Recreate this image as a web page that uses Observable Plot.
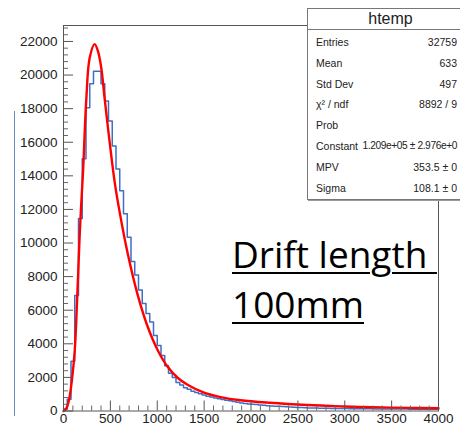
<!DOCTYPE html>
<html>
<head>
<meta charset="utf-8">
<script src="https://cdn.jsdelivr.net/npm/d3@7"></script>
<script src="https://cdn.jsdelivr.net/npm/@observablehq/plot@0.6"></script>
<style>
  html, body { margin: 0; padding: 0; background: white; overflow: hidden; }
  #wrap { position: relative; width: 460px; height: 428px; overflow: hidden; }
  #wrap svg { position: absolute; left: 0; top: 0; }
  .stats { position: absolute; left: 307px; top: 8px; width: 167px; height: 192px;
           border: 1px solid #777; box-shadow: 1px 1px 0 #999; background: white;
           font-family: "Liberation Sans", Arial, sans-serif; color: #222; box-sizing: border-box; }
  .stats .title { position: absolute; left: 0; right: 0; top: 0; height: 20px; line-height: 20px;
           text-align: center; font-size: 16px; border-bottom: 1px solid #777; }
  .stats .row { position: absolute; left: 8px; right: 16px; height: 20px; line-height: 20px; font-size: 10.5px; }
  .stats .row .v { position: absolute; right: 0; top: 0; white-space: nowrap; }
  .stats .row .v.tight { letter-spacing: -0.4px; font-size: 10.2px; }
  .note { position: absolute; left: 232px; top: 229px; font-family: "Open Sans", sans-serif;
          font-size: 37px; line-height: 50px; color: #000; white-space: pre; text-decoration: underline;
          text-decoration-thickness: 2px; text-underline-offset: 4px; }
  .edge { position: absolute; left: 14px; top: 111px; height: 305px; border-left: 1px solid #6a86c0; }
</style>
</head>
<body>
<div id="wrap"></div>
<script>
// ---- data ----
const binWidth = 40;
const counts = [
  120, 700, 2960, 6880, 11460, 15020, 18050, 19480, 20230, 20230,
  19480, 18450, 17260, 15780, 14410, 13110, 11740, 10340, 8900, 8100,
  7200, 6400, 5800, 5300, 4500, 3900, 3300, 2700, 2250, 2000,
  1700, 1550, 1380, 1300, 1180, 1100, 1020, 950, 880, 830,
  780, 730, 680, 640, 610, 570, 520, 480, 450, 420,
  400, 380, 360, 340, 320, 300, 290, 280, 265, 250,
  240, 230, 215, 205, 195, 185, 180, 175, 170, 165,
  160, 155, 150, 148, 145, 142, 140, 138, 135, 133,
  131, 130, 128, 126, 124, 122, 120, 118, 116, 115,
  113, 112, 110, 108, 107, 105, 104, 102, 101, 100
];
const fitX = [0, 30, 60, 92, 120, 145, 173, 191, 209, 244, 279, 332, 368, 403, 438, 491, 544, 597, 686, 792, 899, 1005, 1111, 1217, 1323, 1499, 1676, 1889, 2200, 2600, 3000, 3300, 3700, 4000];
const fitY = [0, 150, 700, 1950, 3600, 6580, 10540, 12500, 14300, 18640, 21010, 21840, 21410, 20420, 18640, 16070, 13700, 11900, 9350, 6900, 5000, 3620, 2630, 1980, 1560, 1090, 830, 640, 490, 356, 270, 220, 185, 160];
const xMajor = [0, 500, 1000, 1500, 2000, 2500, 3000, 3500, 4000];
const yMajor = [0, 2000, 4000, 6000, 8000, 10000, 12000, 14000, 16000, 18000, 20000, 22000];
const xMinorStep = 100;
const yMinorStep = 400;
const statsTitle = "htemp";
const statsLabels = ["Entries", "Mean", "Std Dev", "χ² / ndf", "Prob", "Constant", "MPV", "Sigma"];
const statsValues = ["32759", "633", "497", "8892 / 9", "", "1.209e+05 ± 2.976e+0", "353.5 ± 0", "108.1 ± 0"];
const noteLines = ["Drift length ", "100mm"];

// ---- derived tables ----
const hist = counts.map((c, i) => ({x: i * binWidth, y: c}));
hist.push({x: counts.length * binWidth, y: counts[counts.length - 1]});
const fit = fitX.map((x, i) => ({x, y: fitY[i]}));
const xMinor = d3.range(0, 4000 + 1, xMinorStep).filter(v => !xMajor.includes(v));
const yMinor = d3.range(0, 22950, yMinorStep).filter(v => !yMajor.includes(v));

const W = 460, H = 428, mL = 63, mR = 22, mT = 25, mB = 17.5;
const fw = W - mL - mR, fh = H - mT - mB;

const chart = Plot.plot({
  width: W, height: H,
  marginLeft: mL, marginRight: mR, marginTop: mT, marginBottom: mB,
  x: {domain: [0, 4000], label: null},
  y: {domain: [0, 22950], label: null},
  style: {fontFamily: "Liberation Sans, Arial, sans-serif", fontSize: "13.5px", color: "#222", background: "white", overflow: "visible"},
  marks: [
    Plot.line(hist, {x: "x", y: "y", curve: "step-after", stroke: "#3f6ec6", strokeWidth: 1.5}),
    Plot.line(fit, {x: "x", y: "y", curve: "catmull-rom", stroke: "#ff0000", strokeWidth: 2.4}),
    Plot.tickY(yMinor, {y: d => d, insetRight: fw - 5, stroke: "#666"}),
    Plot.tickY(yMajor, {y: d => d, insetRight: fw - 10, stroke: "#555"}),
    Plot.tickX(xMinor, {x: d => d, insetTop: fh - 5, stroke: "#666"}),
    Plot.tickX(xMajor, {x: d => d, insetTop: fh - 10, stroke: "#555"}),
    Plot.frame({stroke: "#555"}),
    Plot.axisX({ticks: xMajor, tickSize: 0, tickPadding: 2, tickFormat: d => String(d), fill: "#222"}),
    Plot.axisY({ticks: yMajor, tickSize: 0, tickPadding: 6, tickFormat: d => String(d), fill: "#222"})
  ]
});

const wrap = document.getElementById("wrap");
wrap.appendChild(chart);

// stats box
const box = document.createElement("div");
box.className = "stats";
const t = document.createElement("div");
t.className = "title"; t.textContent = statsTitle;
box.appendChild(t);
statsLabels.forEach((lab, i) => {
  const r = document.createElement("div");
  r.className = "row";
  r.style.top = (23 + i * 20.8) + "px";
  r.textContent = lab;
  const v = document.createElement("span");
  v.className = statsValues[i].length > 15 ? "v tight" : "v";
  v.textContent = statsValues[i];
  r.appendChild(v);
  box.appendChild(r);
});
wrap.appendChild(box);

// annotation
const note = document.createElement("div");
note.className = "note";
note.textContent = noteLines.join("\n");
wrap.appendChild(note);

const edge = document.createElement("div");
edge.className = "edge";
wrap.appendChild(edge);
</script>
</body>
</html>
